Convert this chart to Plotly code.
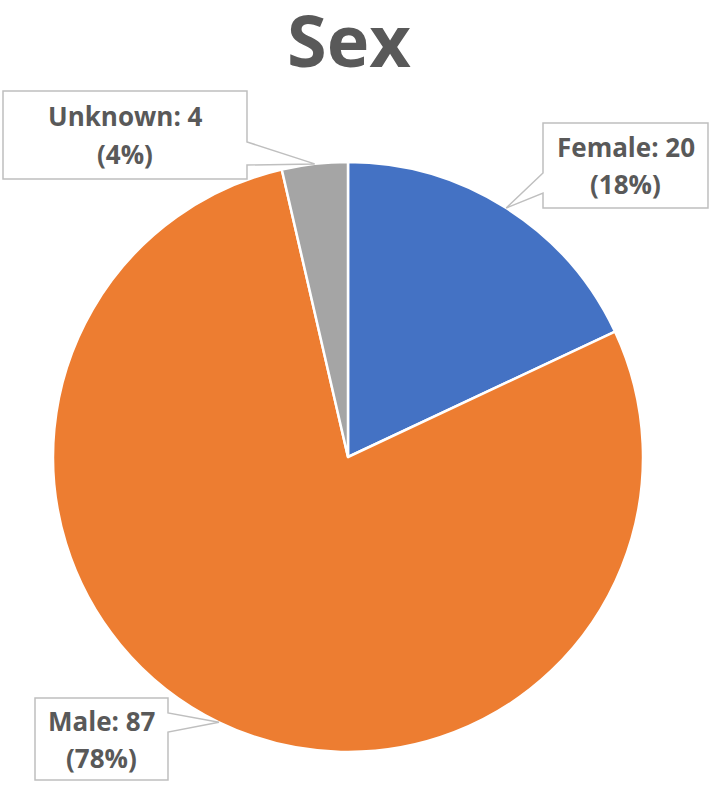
import math
import plotly.graph_objects as go

categories = ["Female", "Male", "Unknown"]
values = [20, 87, 4]
colors = ["#4472C4", "#ED7D31", "#A5A5A5"]

W, H = 718, 786
CX, CY, R = 348, 457, 295

def px(x):
    return x / W

def py(y):
    return 1 - y / H

fig = go.Figure(go.Pie(
    labels=categories, values=values, sort=False, direction="clockwise",
    rotation=0, marker=dict(colors=colors, line=dict(color="white", width=2.5)),
    textinfo="none", hoverinfo="label+value+percent", showlegend=False,
    domain=dict(x=[px(CX - R), px(CX + R)], y=[py(CY + R), py(CY - R)]),
))

# callout boxes: (left, top, right, bottom, side, pointer y1, pointer y2)
boxes = {
    "Female": (543, 123, 708, 208, "left", 173, 193),
    "Male": (35, 698, 168, 780, "right", 713, 732),
    "Unknown": (3, 91, 247, 179, "right", 142, 165),
}

total = sum(values)
cum = 0
shapes, annotations = [], []
for name, v in zip(categories, values):
    mid = (cum + v / 2) / total * 2 * math.pi
    cum += v
    tx = CX + R * math.sin(mid)
    ty = CY - R * math.cos(mid)
    l, t, r, b, side, p1, p2 = boxes[name]
    if side == "right":
        pts = [(l, t), (r, t), (r, p1), (tx, ty), (r, p2), (r, b), (l, b)]
    else:
        pts = [(l, t), (r, t), (r, b), (l, b), (l, p2), (tx, ty), (l, p1)]
    path = "M " + " L ".join(f"{px(x):.5f},{py(y):.5f}" for x, y in pts) + " Z"
    shapes.append(dict(type="path", path=path, xref="paper", yref="paper",
                       line=dict(color="#BFBFBF", width=1.5), fillcolor="white"))
    pct = round(v / total * 100)
    cxb = (l + r) / 2
    cyb = (t + b) / 2
    for text, dy in ((f"{name}: {v}", -18.5), (f"({pct}%)", 18.5)):
        annotations.append(dict(
            text=f"<b>{text}</b>", x=px(cxb), y=py(cyb + dy), xref="paper", yref="paper",
            showarrow=False, xanchor="center", yanchor="middle",
            font=dict(family="Open Sans", size=26, color="#595959")))

annotations.append(dict(
    text="<b>Sex</b>", x=px(349), y=py(39), xref="paper", yref="paper",
    showarrow=False, xanchor="center", yanchor="middle",
    font=dict(family="Open Sans", size=72, color="#595959")))

fig.update_layout(
    width=W, height=H, margin=dict(l=0, r=0, t=0, b=0),
    paper_bgcolor="white", plot_bgcolor="white",
    shapes=shapes, annotations=annotations,
)

fig.write_html("out.html", config={"displayModeBar": False},
               post_script="document.body.style.margin='0';")
